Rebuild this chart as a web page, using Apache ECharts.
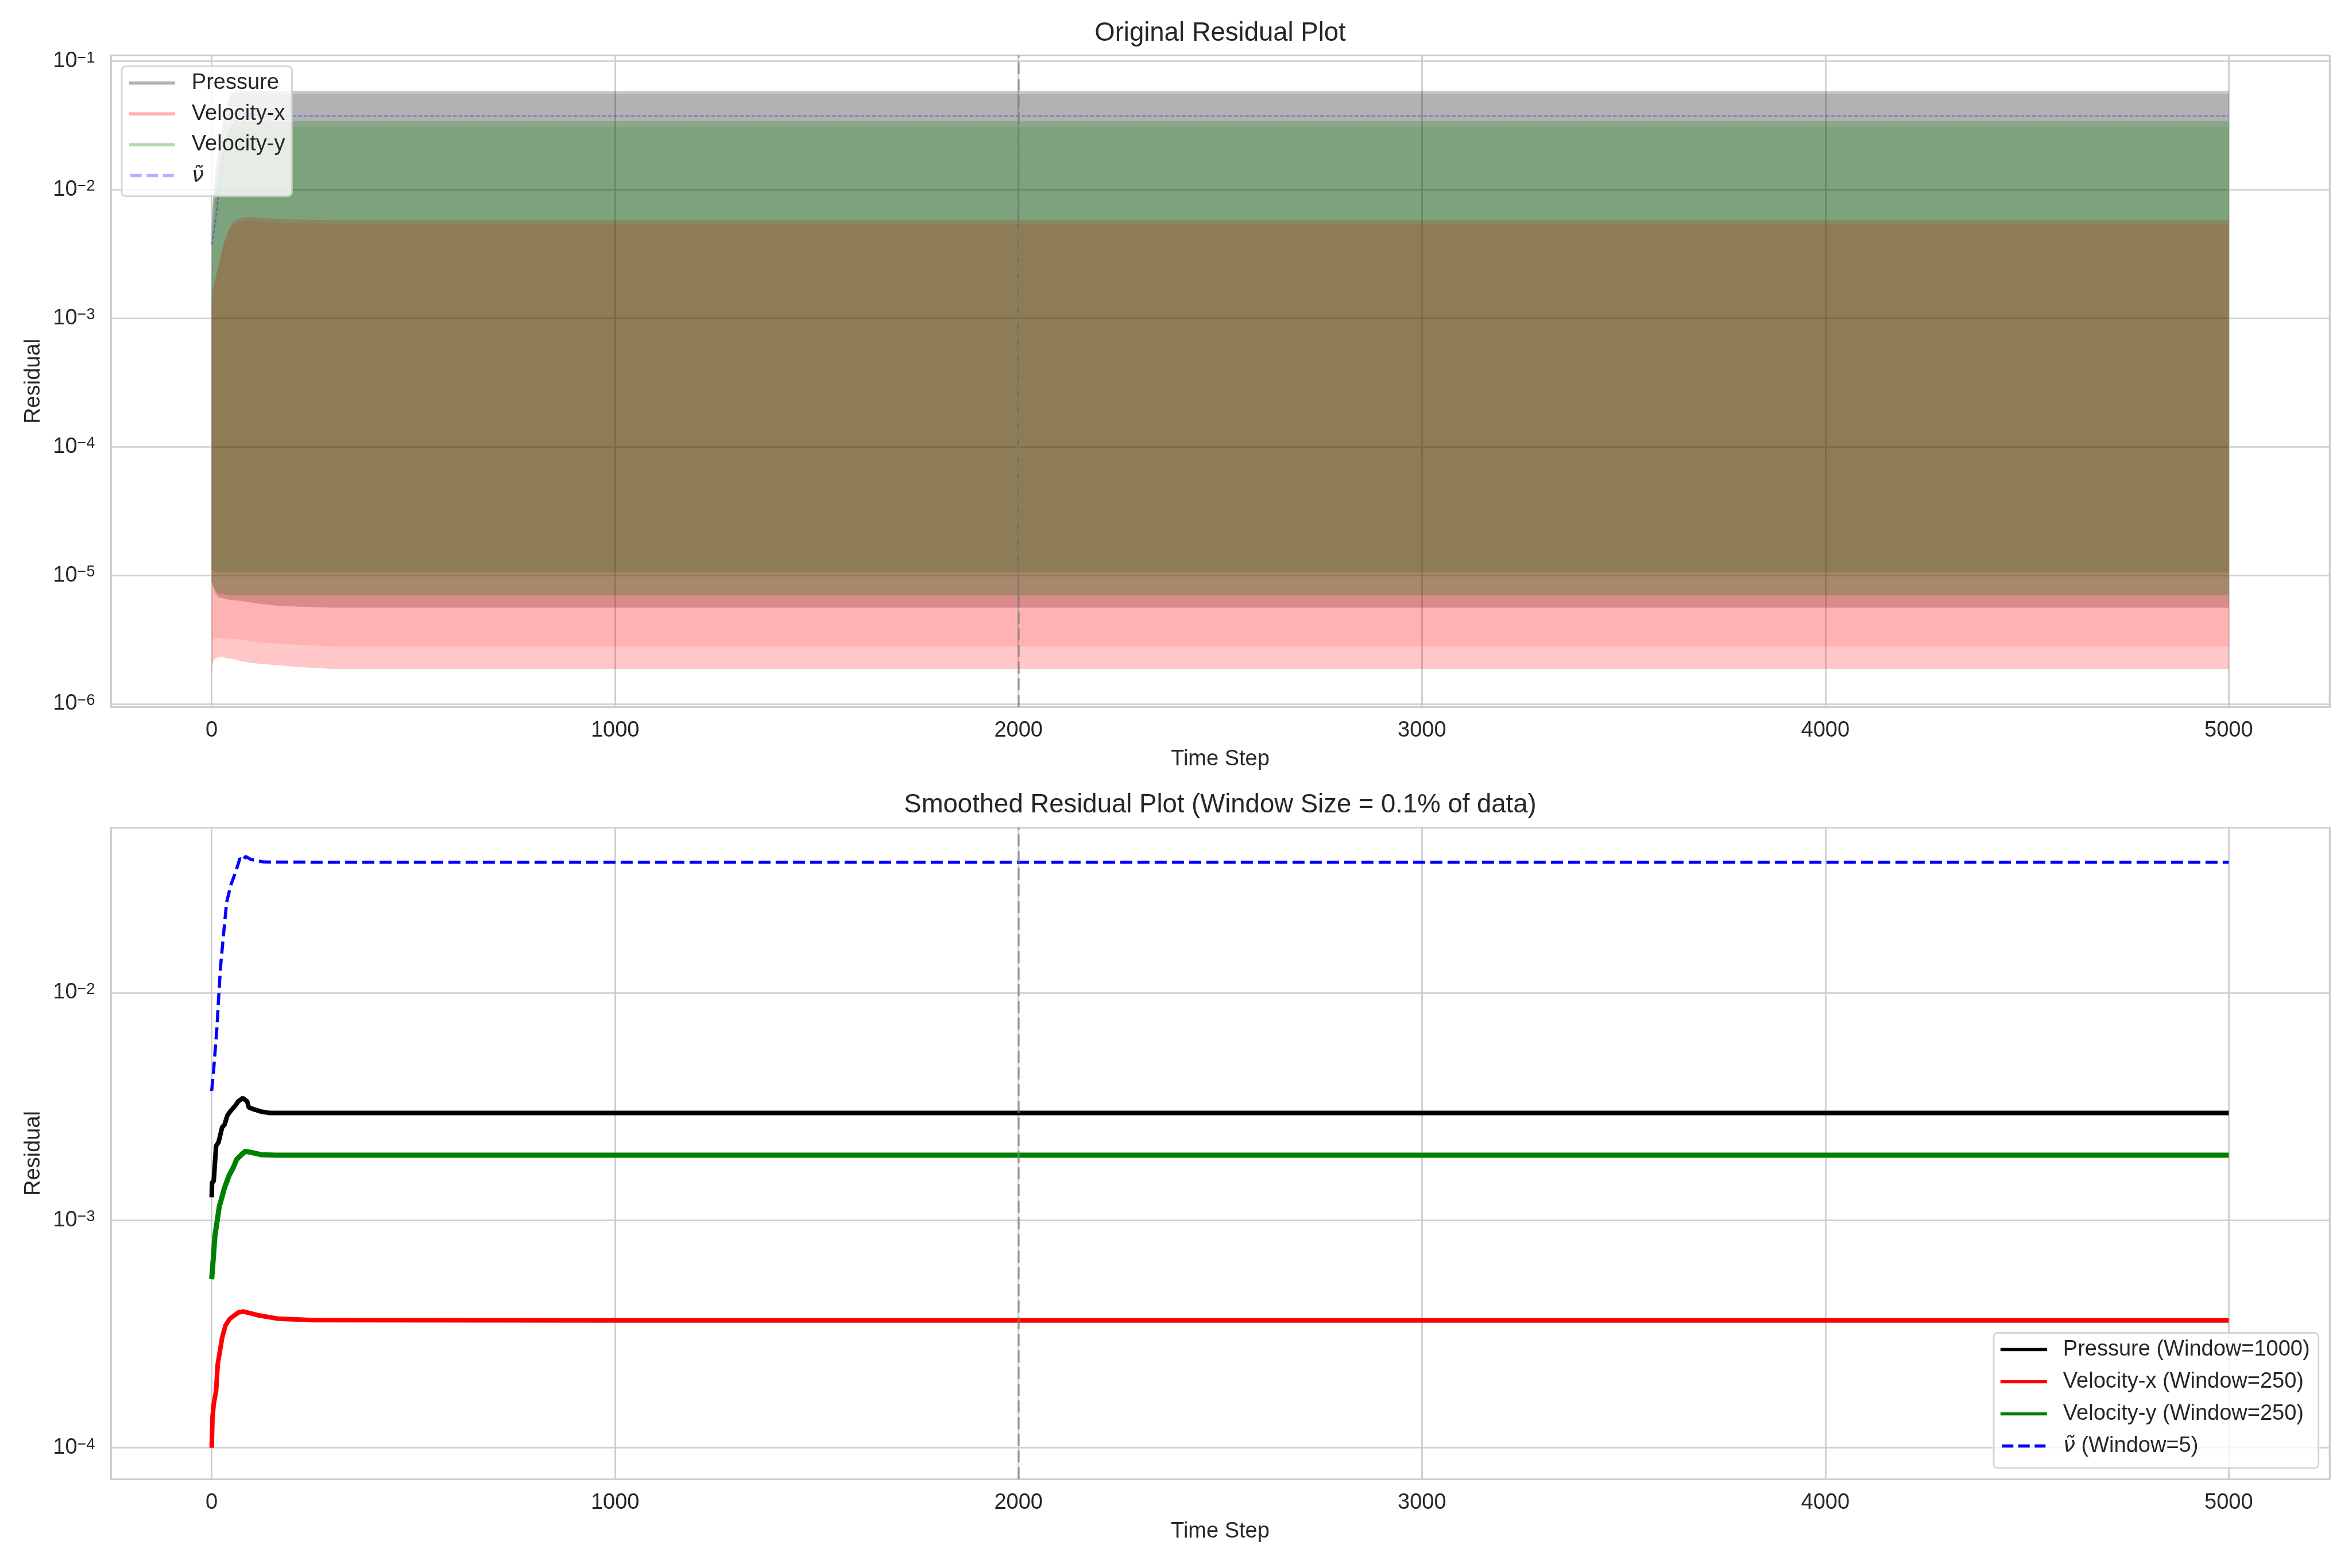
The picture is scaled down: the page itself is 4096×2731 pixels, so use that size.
<!DOCTYPE html>
<html>
<head>
<meta charset="utf-8">
<script src="https://cdn.jsdelivr.net/npm/echarts@6/dist/echarts.min.js"></script>
<style>
  html, body { margin: 0; padding: 0; background: #ffffff; }
  #chart { width: 4096px; height: 2731px; }
</style>
</head>
<body>
<div id="chart"></div>
<script>
// ================= DATA =================
// Tick labels
const X_TICKS = [0, 1000, 2000, 3000, 4000, 5000];
const Y_EXP_TOP = [-6, -5, -4, -3, -2, -1];
const Y_EXP_BOTTOM = [-4, -3, -2];
const MARK_STEP = 2000;

// --- Top panel: envelopes of the raw (densely oscillating) residuals ---
const TOP_STEPS = [0, 2, 5, 10, 15, 20, 30, 40, 50, 60, 75, 90, 120, 160, 220, 300, 1000, 2000, 3000, 4000, 5000];

const PRESSURE_HI_TIP  = [5.0e-3, 7.2e-3, 1.0e-2, 1.4e-2, 1.85e-2, 2.4e-2, 3.6e-2, 4.9e-2, 5.7e-2, 5.9e-2, 5.9e-2, 5.88e-2, 5.87e-2, 5.86e-2, 5.86e-2, 5.86e-2, 5.86e-2, 5.86e-2, 5.86e-2, 5.86e-2, 5.86e-2];
const PRESSURE_HI_BASE = [5.0e-3, 7.2e-3, 1.0e-2, 1.4e-2, 1.85e-2, 2.4e-2, 3.6e-2, 4.7e-2, 5.4e-2, 5.55e-2, 5.56e-2, 5.56e-2, 5.55e-2, 5.55e-2, 5.55e-2, 5.55e-2, 5.55e-2, 5.55e-2, 5.55e-2, 5.55e-2, 5.55e-2];
const PRESSURE_LO_BASE = [1.1e-5, 1.08e-5, 1.07e-5, 1.06e-5, 1.05e-5, 1.05e-5, 1.05e-5, 1.05e-5, 1.05e-5, 1.05e-5, 1.05e-5, 1.05e-5, 1.05e-5, 1.05e-5, 1.05e-5, 1.05e-5, 1.05e-5, 1.05e-5, 1.05e-5, 1.05e-5, 1.05e-5];
const PRESSURE_LO_TIP  = [9.0e-6, 8.5e-6, 8.0e-6, 7.2e-6, 6.9e-6, 6.7e-6, 6.6e-6, 6.5e-6, 6.4e-6, 6.4e-6, 6.3e-6, 6.2e-6, 6.0e-6, 5.8e-6, 5.7e-6, 5.6e-6, 5.6e-6, 5.6e-6, 5.6e-6, 5.6e-6, 5.6e-6];

const VX_HI_TIP  = [1.4e-3, 1.6e-3, 1.8e-3, 2.1e-3, 2.4e-3, 2.8e-3, 3.8e-3, 4.7e-3, 5.4e-3, 5.8e-3, 6.05e-3, 6.15e-3, 6.05e-3, 5.9e-3, 5.85e-3, 5.8e-3, 5.8e-3, 5.8e-3, 5.8e-3, 5.8e-3, 5.8e-3];
const VX_HI_BASE = [1.4e-3, 1.6e-3, 1.8e-3, 2.1e-3, 2.4e-3, 2.8e-3, 3.8e-3, 4.6e-3, 5.2e-3, 5.45e-3, 5.7e-3, 5.8e-3, 5.7e-3, 5.55e-3, 5.45e-3, 5.43e-3, 5.43e-3, 5.43e-3, 5.43e-3, 5.43e-3, 5.43e-3];
const VX_LO_BASE = [2.0e-6, 3.0e-6, 3.2e-6, 3.25e-6, 3.25e-6, 3.25e-6, 3.25e-6, 3.2e-6, 3.2e-6, 3.2e-6, 3.15e-6, 3.1e-6, 3.0e-6, 2.95e-6, 2.87e-6, 2.8e-6, 2.8e-6, 2.8e-6, 2.8e-6, 2.8e-6, 2.8e-6];
const VX_LO_TIP  = [1.6e-6, 2.0e-6, 2.2e-6, 2.25e-6, 2.3e-6, 2.3e-6, 2.3e-6, 2.25e-6, 2.25e-6, 2.2e-6, 2.15e-6, 2.1e-6, 2.05e-6, 2.0e-6, 1.93e-6, 1.87e-6, 1.87e-6, 1.87e-6, 1.87e-6, 1.87e-6, 1.87e-6];

const VY_HI_TIP  = [2.0e-3, 4.0e-3, 7.5e-3, 1.0e-2, 1.3e-2, 1.6e-2, 2.2e-2, 2.7e-2, 3.1e-2, 3.35e-2, 3.41e-2, 3.41e-2, 3.41e-2, 3.41e-2, 3.41e-2, 3.41e-2, 3.41e-2, 3.41e-2, 3.41e-2, 3.41e-2, 3.41e-2];
const VY_HI_BASE = [2.0e-3, 4.0e-3, 7.5e-3, 1.0e-2, 1.3e-2, 1.6e-2, 2.2e-2, 2.65e-2, 2.95e-2, 3.05e-2, 3.07e-2, 3.07e-2, 3.07e-2, 3.07e-2, 3.07e-2, 3.07e-2, 3.07e-2, 3.07e-2, 3.07e-2, 3.07e-2, 3.07e-2];
const VY_LO_BASE = [1.1e-5, 1.08e-5, 1.07e-5, 1.06e-5, 1.05e-5, 1.05e-5, 1.05e-5, 1.05e-5, 1.05e-5, 1.05e-5, 1.05e-5, 1.05e-5, 1.05e-5, 1.05e-5, 1.05e-5, 1.05e-5, 1.05e-5, 1.05e-5, 1.05e-5, 1.05e-5, 1.05e-5];
const VY_LO_TIP  = [9.0e-6, 8.5e-6, 8.0e-6, 7.5e-6, 7.3e-6, 7.2e-6, 7.1e-6, 7.0e-6, 7.0e-6, 7.0e-6, 7.0e-6, 7.0e-6, 7.0e-6, 7.0e-6, 7.0e-6, 7.0e-6, 7.0e-6, 7.0e-6, 7.0e-6, 7.0e-6, 7.0e-6];

// nu-tilde (raw, top panel)
const NU_RAW_STEPS = [0, 5, 13, 18, 22, 30, 37, 48, 59, 70, 77, 84, 97, 112, 130, 300, 1000, 2000, 3000, 4000, 5000];
const NU_RAW_VALS  = [3.7e-3, 4.6e-3, 7.0e-3, 1.0e-2, 1.3e-2, 1.85e-2, 2.49e-2, 2.99e-2, 3.37e-2, 3.89e-2, 3.8e-2, 3.97e-2, 3.85e-2, 3.8e-2, 3.75e-2, 3.74e-2, 3.74e-2, 3.74e-2, 3.74e-2, 3.74e-2, 3.74e-2];

// --- Bottom panel: smoothed residuals ---
const P_SM_STEPS = [0, 1, 5, 11, 17, 26, 32, 39, 47, 58, 66, 77, 88, 92, 105, 123, 144, 300, 1000, 2000, 3000, 4000, 5000];
const P_SM_VALS  = [1.26e-3, 1.47e-3, 1.48e-3, 2.12e-3, 2.2e-3, 2.56e-3, 2.63e-3, 2.89e-3, 3.02e-3, 3.18e-3, 3.33e-3, 3.44e-3, 3.33e-3, 3.13e-3, 3.07e-3, 3.0e-3, 2.96e-3, 2.96e-3, 2.96e-3, 2.96e-3, 2.96e-3, 2.96e-3, 2.96e-3];

const VX_SM_STEPS = [0, 2, 5, 11, 15, 26, 34, 45, 66, 79, 113, 165, 250, 1000, 2000, 3000, 4000, 5000];
const VX_SM_VALS  = [1.0e-4, 1.36e-4, 1.55e-4, 1.78e-4, 2.33e-4, 3.05e-4, 3.44e-4, 3.69e-4, 3.93e-4, 3.97e-4, 3.83e-4, 3.69e-4, 3.64e-4, 3.63e-4, 3.63e-4, 3.63e-4, 3.63e-4, 3.63e-4];

const VY_SM_STEPS = [0, 2, 8, 19, 32, 43, 54, 62, 75, 84, 101, 123, 160, 300, 1000, 2000, 3000, 4000, 5000];
const VY_SM_VALS  = [5.5e-4, 6.1e-4, 8.5e-4, 1.15e-3, 1.39e-3, 1.57e-3, 1.71e-3, 1.85e-3, 1.95e-3, 2.01e-3, 1.98e-3, 1.94e-3, 1.93e-3, 1.93e-3, 1.93e-3, 1.93e-3, 1.93e-3, 1.93e-3, 1.93e-3];

const NU_SM_STEPS = [0, 5, 13, 18, 22, 30, 37, 48, 59, 70, 77, 84, 97, 112, 130, 300, 1000, 2000, 3000, 4000, 5000];
const NU_SM_VALS  = [3.7e-3, 4.6e-3, 7.0e-3, 1.0e-2, 1.3e-2, 1.85e-2, 2.49e-2, 2.99e-2, 3.37e-2, 3.89e-2, 3.8e-2, 3.97e-2, 3.85e-2, 3.8e-2, 3.75e-2, 3.74e-2, 3.74e-2, 3.74e-2, 3.74e-2, 3.74e-2, 3.74e-2];

// ================= STYLE / LAYOUT =================
const FONT = '"Liberation Sans", Arial, sans-serif';
const TXT = '#262626';
const GRIDC = '#cccccc';
const FS = 38;

function pairs(xs, ys) { return xs.map((x, i) => [x, ys[i]]); }
function rgba(rgb, a) { return 'rgba(' + rgb.join(',') + ',' + a + ')'; }

// band: outer polygon (tips) + inner polygon (bases); combined alpha in core = 0.3
const A_OUT = 0.22, A_IN = 1 - 0.7 / (1 - A_OUT);
function bandRenderer(steps, loTip, loBase, hiBase, hiTip, rgb) {
  return function (params, api) {
    if (params.dataIndex !== 0) return null;
    const outer = [], inner = [];
    for (let i = 0; i < steps.length; i++) outer.push(api.coord([steps[i], hiTip[i]]));
    for (let i = steps.length - 1; i >= 0; i--) outer.push(api.coord([steps[i], loTip[i]]));
    for (let i = 0; i < steps.length; i++) inner.push(api.coord([steps[i], hiBase[i]]));
    for (let i = steps.length - 1; i >= 0; i--) inner.push(api.coord([steps[i], loBase[i]]));
    return {
      type: 'group',
      children: [
        { type: 'polygon', shape: { points: outer }, style: { fill: rgba(rgb, A_OUT), stroke: null } },
        { type: 'polygon', shape: { points: inner }, style: { fill: rgba(rgb, A_IN), stroke: null } }
      ]
    };
  };
}

function logLabel(exps) {
  return function (v) {
    const l = Math.log10(v);
    const e = Math.round(l);
    if (Math.abs(l - e) > 1e-6 || exps.indexOf(e) < 0) return '';
    return '{b|10}{s|' + (e < 0 ? '\u2212' + (-e) : String(e)) + '}';
  };
}
const LOG_RICH = {
  b: { fontSize: FS, lineHeight: FS, verticalAlign: 'bottom', fontFamily: FONT, color: TXT },
  s: { fontSize: 27, lineHeight: 27, verticalAlign: 'top', padding: [0, 0, 27, 0], fontFamily: FONT, color: TXT }
};

const GRID_W = 3864, GRID_H = 1134.8, GRID_L = 193;
const TOP_Y = 96.5, BOT_Y = 1441.5;
const CX = GRID_L + GRID_W / 2;

function xAxisCfg(gi) {
  return {
    gridIndex: gi, type: 'value', min: -250, max: 5250,
    axisLine: { show: false }, axisTick: { show: false },
    splitLine: { show: true, lineStyle: { color: GRIDC, width: 2.7 } },
    axisLabel: {
      formatter: v => (X_TICKS.indexOf(v) >= 0 ? String(v) : ''),
      margin: 22, fontSize: FS, fontFamily: FONT, color: TXT
    },
    name: 'Time Step', nameLocation: 'middle', nameGap: 72.5,
    nameTextStyle: { fontSize: FS, fontFamily: FONT, color: TXT }
  };
}
function yAxisCfg(gi, lo, hi, exps) {
  return {
    gridIndex: gi, type: 'log', logBase: 10, min: lo, max: hi,
    axisLine: { show: false }, axisTick: { show: false },
    splitLine: { show: true, lineStyle: { color: GRIDC, width: 2.7 } },
    axisLabel: { formatter: logLabel(exps), margin: 27.6, rich: LOG_RICH, fontFamily: FONT, color: TXT },
    name: 'Residual', nameLocation: 'middle', nameGap: 115, nameRotate: 90,
    nameTextStyle: { fontSize: FS, fontFamily: FONT, color: TXT }
  };
}

const DASH_ICON = 'path://M0,0H21V6H0Z M30,0H51V6H30Z M60,0H80V6H60Z';
const markLine2000 = {
  silent: true, symbol: ['none', 'none'], label: { show: false },
  lineStyle: { color: 'rgba(128,128,128,0.7)', width: 3.6, type: [21, 8] },
  data: [{ xAxis: MARK_STEP }]
};
const legendText = {
  fontFamily: FONT, fontSize: FS, color: TXT, padding: [0, 0, 0, 24],
  rich: { nu: { fontFamily: '"DejaVu Sans", sans-serif', fontStyle: 'italic', fontSize: FS, color: TXT } }
};
const legendFormatter = n => (n.indexOf('\u03bd\u0303') === 0 ? '{nu|\u03bd\u0303}' + n.slice(2) : n);

const option = {
  animation: false,
  backgroundColor: '#ffffff',
  title: [
    { text: 'Original Residual Plot', left: CX, top: 35.8, textAlign: 'center', padding: 0,
      textStyle: { fontSize: 45.5, fontWeight: 'normal', fontFamily: FONT, color: TXT } },
    { text: 'Smoothed Residual Plot (Window Size = 0.1% of data)', left: CX, top: 1379.5, textAlign: 'center', padding: 0,
      textStyle: { fontSize: 45.5, fontWeight: 'normal', fontFamily: FONT, color: TXT } }
  ],
  grid: [
    { left: GRID_L, top: TOP_Y, width: GRID_W, height: GRID_H, show: true, borderColor: GRIDC, borderWidth: 2.7,
      backgroundColor: '#ffffff', containLabel: false, outerBoundsMode: 'none' },
    { left: GRID_L, top: BOT_Y, width: GRID_W, height: GRID_H, show: true, borderColor: GRIDC, borderWidth: 2.7,
      backgroundColor: '#ffffff', containLabel: false, outerBoundsMode: 'none' }
  ],
  xAxis: [xAxisCfg(0), xAxisCfg(1)],
  yAxis: [
    yAxisCfg(0, Math.pow(10, -6.024), Math.pow(10, -0.955), Y_EXP_TOP),
    yAxisCfg(1, Math.pow(10, -4.138), Math.pow(10, -1.275), Y_EXP_BOTTOM)
  ],
  legend: [
    {
      orient: 'vertical', left: 212, top: 115.6, padding: [10, 12, 17, 12.8],
      itemWidth: 80, itemHeight: 5.7, itemGap: 15.7, selectedMode: false,
      backgroundColor: 'rgba(255,255,255,0.8)', borderColor: 'rgba(204,204,204,0.8)', borderWidth: 3, borderRadius: 7,
      textStyle: legendText, formatter: legendFormatter,
      data: [
        { name: 'Pressure', icon: 'rect', itemStyle: { color: 'rgba(0,0,0,0.3)', borderWidth: 0 } },
        { name: 'Velocity-x', icon: 'rect', itemStyle: { color: 'rgba(255,0,0,0.3)', borderWidth: 0 } },
        { name: 'Velocity-y', icon: 'rect', itemStyle: { color: 'rgba(0,128,0,0.3)', borderWidth: 0 } },
        { name: '\u03bd\u0303', icon: DASH_ICON, itemStyle: { color: 'rgba(0,0,255,0.3)', borderWidth: 0 } }
      ]
    },
    {
      orient: 'vertical', left: 3472, top: 2321.5, padding: [10, 15, 19.5, 11.8],
      itemWidth: 81, itemHeight: 5.7, itemGap: 18, selectedMode: false,
      backgroundColor: 'rgba(255,255,255,0.8)', borderColor: 'rgba(204,204,204,0.8)', borderWidth: 3, borderRadius: 7,
      textStyle: Object.assign({}, legendText, { padding: [0, 0, 0, 23] }), formatter: legendFormatter,
      data: [
        { name: 'Pressure (Window=1000)', icon: 'rect', itemStyle: { color: '#000000', borderWidth: 0 } },
        { name: 'Velocity-x (Window=250)', icon: 'rect', itemStyle: { color: '#ff0000', borderWidth: 0 } },
        { name: 'Velocity-y (Window=250)', icon: 'rect', itemStyle: { color: '#008000', borderWidth: 0 } },
        { name: '\u03bd\u0303 (Window=5)', icon: DASH_ICON, itemStyle: { color: '#0000ff', borderWidth: 0 } }
      ]
    }
  ],
  series: [
    // ---- top panel ----
    { type: 'custom', name: 'Pressure', xAxisIndex: 0, yAxisIndex: 0, silent: true, clip: true,
      itemStyle: { color: 'rgba(0,0,0,0.3)' },
      data: pairs(TOP_STEPS, PRESSURE_HI_TIP),
      renderItem: bandRenderer(TOP_STEPS, PRESSURE_LO_TIP, PRESSURE_LO_BASE, PRESSURE_HI_BASE, PRESSURE_HI_TIP, [0, 0, 0]) },
    { type: 'custom', name: 'Velocity-x', xAxisIndex: 0, yAxisIndex: 0, silent: true, clip: true,
      itemStyle: { color: 'rgba(255,0,0,0.3)' },
      data: pairs(TOP_STEPS, VX_HI_TIP),
      renderItem: bandRenderer(TOP_STEPS, VX_LO_TIP, VX_LO_BASE, VX_HI_BASE, VX_HI_TIP, [255, 0, 0]) },
    { type: 'custom', name: 'Velocity-y', xAxisIndex: 0, yAxisIndex: 0, silent: true, clip: true,
      itemStyle: { color: 'rgba(0,128,0,0.3)' },
      data: pairs(TOP_STEPS, VY_HI_TIP),
      renderItem: bandRenderer(TOP_STEPS, VY_LO_TIP, VY_LO_BASE, VY_HI_BASE, VY_HI_TIP, [0, 128, 0]) },
    { type: 'line', name: '\u03bd\u0303', xAxisIndex: 0, yAxisIndex: 0, silent: true,
      data: pairs(NU_RAW_STEPS, NU_RAW_VALS), symbol: 'none', showSymbol: false,
      itemStyle: { color: 'rgba(0,0,255,0.3)' },
      lineStyle: { color: 'rgba(0,0,255,0.3)', width: 2.5, type: [7, 3] },
      markLine: markLine2000 },
    // ---- bottom panel ----
    { type: 'line', name: 'Pressure (Window=1000)', xAxisIndex: 1, yAxisIndex: 1, silent: true,
      data: pairs(P_SM_STEPS, P_SM_VALS), symbol: 'none', showSymbol: false,
      itemStyle: { color: '#000000' }, lineStyle: { color: '#000000', width: 8 } },
    { type: 'line', name: 'Velocity-x (Window=250)', xAxisIndex: 1, yAxisIndex: 1, silent: true,
      data: pairs(VX_SM_STEPS, VX_SM_VALS), symbol: 'none', showSymbol: false,
      itemStyle: { color: '#ff0000' }, lineStyle: { color: '#ff0000', width: 8 } },
    { type: 'line', name: 'Velocity-y (Window=250)', xAxisIndex: 1, yAxisIndex: 1, silent: true,
      data: pairs(VY_SM_STEPS, VY_SM_VALS), symbol: 'none', showSymbol: false,
      itemStyle: { color: '#008000' }, lineStyle: { color: '#008000', width: 9 } },
    { type: 'line', name: '\u03bd\u0303 (Window=5)', xAxisIndex: 1, yAxisIndex: 1, silent: true,
      data: pairs(NU_SM_STEPS, NU_SM_VALS), symbol: 'none', showSymbol: false,
      itemStyle: { color: '#0000ff' }, lineStyle: { color: '#0000ff', width: 5.5, type: [21, 9] },
      markLine: markLine2000 }
  ]
};

const chart = echarts.init(document.getElementById('chart'), null, { renderer: 'canvas', devicePixelRatio: 1 });
chart.setOption(option);
</script>
</body>
</html>
